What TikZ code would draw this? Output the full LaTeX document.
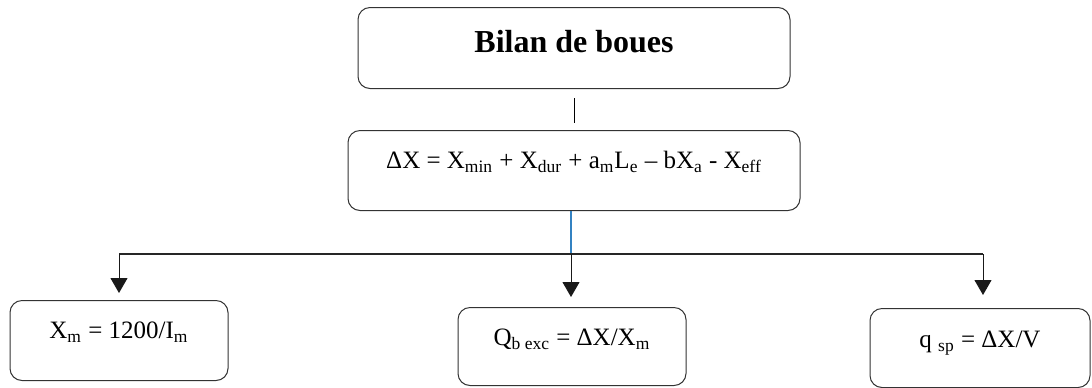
\documentclass[tikz,border=0pt]{standalone}
\usepackage{fontspec}
\setmainfont{Liberation Serif}
\usetikzlibrary{arrows.meta}
\newcommand{\sub}[1]{\textsubscript{#1}}
\newcommand{\petit}{\fontsize{12.5}{15}\selectfont}

\begin{document}
\begin{tikzpicture}[x=0.5pt,y=-0.5pt,
    boite/.style={draw=black!80,line width=0.5pt,rounded corners=6pt,anchor=north,
      inner xsep=0pt,inner ysep=0pt,text height=19pt,text depth=21pt,font=\petit},
    fleche/.style={-{Triangle[width=8.5pt,length=7.5pt]},line width=0.5pt,black!90}]
        \useasboundingbox (0,0) rectangle (1092,387);
        % boites du haut
        \node[boite,minimum width=216pt,text height=22.5pt,text depth=18pt,
          font=\fontsize{16}{19}\selectfont\bfseries] (bilan) at (574,7) {Bilan de boues};
        \node[boite,minimum width=226pt] (delta) at (574,130)
          {ΔX = X\sub{min} + X\sub{dur} + a\sub{m}L\sub{e} – bX\sub{a} - X\sub{eff}};
        % boites du bas
        \node[boite,minimum width=109pt] (xm) at (119,300) {X\sub{m} = 1200/I\sub{m}};
        \node[boite,minimum width=114pt,text depth=20pt] (qb) at (572,307) {Q\sub{b exc} = ΔX/X\sub{m}};
        \node[boite,minimum width=110pt,text height=19.5pt,text depth=20pt] (qsp) at (980,308) {q \sub{sp} = ΔX/V};
        % liaisons
        \coordinate (bus) at (571,254);
        \coordinate (busL) at (xm.north |- bus);
        \coordinate (busR) at (983,254);
        \draw[line width=0.5pt,shorten <=4.5pt,shorten >=3.5pt] (bilan.south) -- (delta.north);
        \draw[line width=0.6pt,blue!45!cyan!70!black!80] (delta.south -| bus) -- (bus);
        \draw[line width=0.6pt,black!85] (busL) -- (busR);
        \draw[fleche,shorten >=3.5pt] (busL) -- (xm.north);
        \draw[fleche,shorten >=5pt] (bus) -- (qb.north -| bus);
        \draw[fleche,shorten >=6.5pt] (busR) -- (busR |- qsp.north);
      \end{tikzpicture}
\end{document}
